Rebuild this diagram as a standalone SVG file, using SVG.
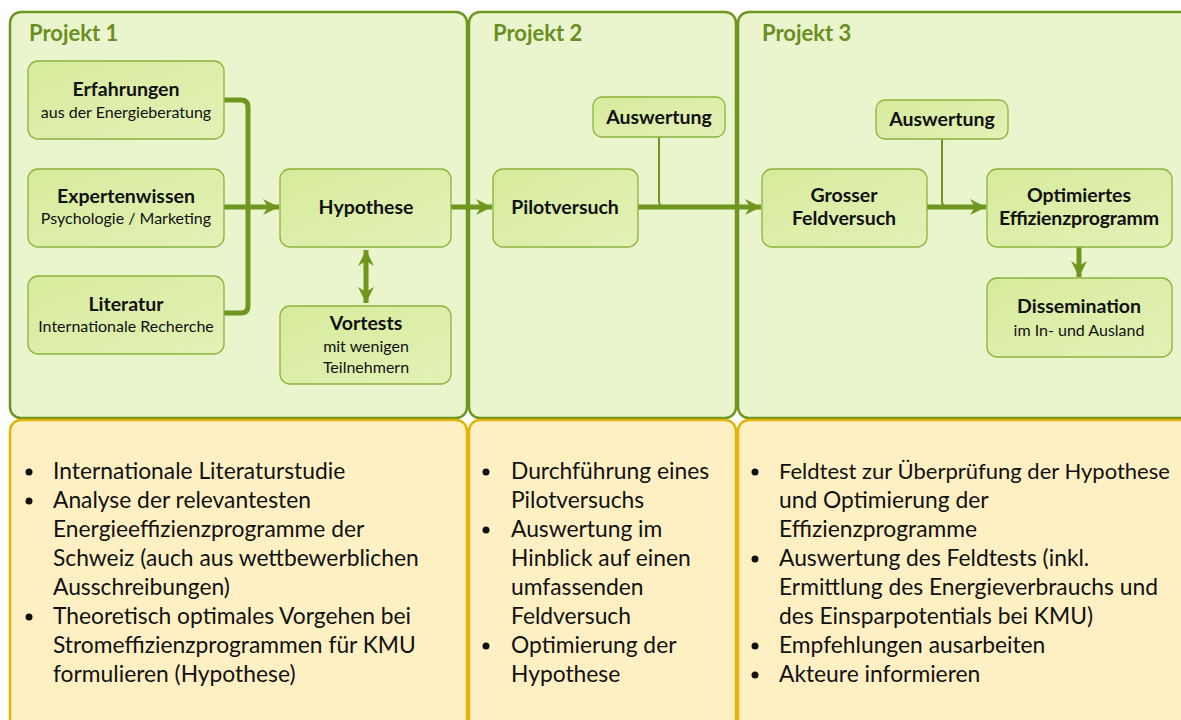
<svg xmlns="http://www.w3.org/2000/svg" width="1181" height="720" viewBox="0 0 1181 720">
<defs>
<linearGradient id="ng" x1="0" y1="0" x2="1" y2="1">
<stop offset="0" stop-color="#d6eb9c"/>
<stop offset="1" stop-color="#e3f1b6"/>
</linearGradient>
<marker id="ah" markerUnits="userSpaceOnUse" markerWidth="18" markerHeight="16" refX="16" refY="8" orient="auto-start-reverse">
<path d="M0,0 L16,8 L0,16 L5,8 z" fill="#6f961e"/>
</marker>
<style>
.panel{fill:#eaf5cd;stroke:#6f961e;stroke-width:2.5}
.tpanel{fill:#fff0c4;stroke:#e2b40a;stroke-width:2.5}
.title{font-family:Lato,"Liberation Sans",sans-serif;font-weight:bold;font-size:22px;fill:#6b8e23}
.node rect{fill:url(#ng);stroke:#8ab33c;stroke-width:1.3}
.b{font-family:Lato,"Liberation Sans",sans-serif;font-weight:bold;font-size:19.5px;fill:#111;text-anchor:middle}
.s{font-family:Lato,"Liberation Sans",sans-serif;font-size:16px;fill:#111;text-anchor:middle}
.con{fill:none;stroke:#6f961e;stroke-width:5}
.thin{fill:none;stroke:#6f961e;stroke-width:2}
.bl{font-family:Lato,"Liberation Sans",sans-serif;font-size:22.8px;fill:#111}
.dot{fill:#111}
</style>
</defs>
<rect width="1181" height="720" fill="#ffffff"/>
<g id="panels">
<rect class="panel" x="10" y="12" width="457" height="406" rx="11"/>
<rect class="panel" x="469" y="12" width="267" height="406" rx="11"/>
<rect class="panel" x="738" y="12" width="460" height="406" rx="11"/>
<text class="title" x="29" y="41">Projekt 1</text>
<text class="title" x="493" y="41">Projekt 2</text>
<text class="title" x="762" y="41">Projekt 3</text>
</g>
<g id="connectors">
<path class="con" d="M224,100 H241 Q248,100 248,107 V207"/>
<path class="con" d="M224,313 H241 Q248,313 248,306 V207"/>
<path class="con" d="M224,207 H279" marker-end="url(#ah)"/>
<path class="con" d="M366,250 V303" marker-start="url(#ah)" marker-end="url(#ah)"/>
<path class="con" d="M451,207 H492" marker-end="url(#ah)"/>
<path class="thin" d="M659,137 V201 Q659,207 665,207"/>
<path class="con" d="M638,207 H761" marker-end="url(#ah)"/>
<path class="thin" d="M942,139 V201 Q942,207 948,207"/>
<path class="con" d="M927,207 H986" marker-end="url(#ah)"/>
<path class="con" d="M1079,246 V277" marker-end="url(#ah)"/>
</g>
<g id="n-erfahrungen" class="node">
<rect x="28" y="61" width="196" height="78" rx="10"/>
<text class="b" x="126" y="96">Erfahrungen</text>
<text class="s" x="126" y="118">aus der Energieberatung</text>
</g>
<g id="n-experten" class="node">
<rect x="28" y="169" width="196" height="78" rx="10"/>
<text class="b" x="126" y="203">Expertenwissen</text>
<text class="s" x="126" y="224">Psychologie / Marketing</text>
</g>
<g id="n-literatur" class="node">
<rect x="28" y="276" width="196" height="78" rx="10"/>
<text class="b" x="126" y="311">Literatur</text>
<text class="s" x="126" y="332">Internationale Recherche</text>
</g>
<g id="n-hypothese" class="node">
<rect x="280" y="169" width="171" height="78" rx="10"/>
<text class="b" x="366" y="214">Hypothese</text>
</g>
<g id="n-vortests" class="node">
<rect x="280" y="306" width="171" height="78" rx="10"/>
<text class="b" x="366" y="330">Vortests</text>
<text class="s" x="366" y="352">mit wenigen</text>
<text class="s" x="366" y="373">Teilnehmern</text>
</g>
<g id="n-pilot" class="node">
<rect x="493" y="169" width="145" height="78" rx="10"/>
<text class="b" x="565" y="214">Pilotversuch</text>
</g>
<g id="n-ausw2" class="node">
<rect x="593" y="97" width="132" height="40" rx="9"/>
<text class="b" x="659" y="124">Auswertung</text>
</g>
<g id="n-grosser" class="node">
<rect x="762" y="169" width="165" height="78" rx="10"/>
<text class="b" x="844" y="202">Grosser</text>
<text class="b" x="844" y="225">Feldversuch</text>
</g>
<g id="n-ausw3" class="node">
<rect x="876" y="100" width="132" height="39" rx="9"/>
<text class="b" x="942" y="126">Auswertung</text>
</g>
<g id="n-optim" class="node">
<rect x="987" y="169" width="185" height="78" rx="10"/>
<text class="b" x="1079" y="202">Optimiertes</text>
<text class="b" x="1079" y="225" textLength="160" lengthAdjust="spacing">Effizienzprogramm</text>
</g>
<g id="n-dissem" class="node">
<rect x="987" y="278" width="185" height="79" rx="10"/>
<text class="b" x="1079" y="313">Dissemination</text>
<text class="s" x="1079" y="336">im In- und Ausland</text>
</g>
<g id="tasks">
<rect class="tpanel" x="10" y="420" width="457" height="320" rx="11"/>
<rect class="tpanel" x="469" y="420" width="267" height="320" rx="11"/>
<rect class="tpanel" x="738" y="420" width="460" height="320" rx="11"/>
<circle class="dot" cx="29" cy="472" r="3.5"/>
<circle class="dot" cx="29" cy="501" r="3.5"/>
<circle class="dot" cx="29" cy="617" r="3.5"/>
<text class="bl" x="53" y="479">Internationale Literaturstudie</text>
<text class="bl" x="53" y="508">Analyse der relevantesten</text>
<text class="bl" x="53" y="537">Energieeffizienzprogramme der</text>
<text class="bl" x="53" y="566">Schweiz (auch aus wettbewerblichen</text>
<text class="bl" x="53" y="595">Ausschreibungen)</text>
<text class="bl" x="53" y="624">Theoretisch optimales Vorgehen bei</text>
<text class="bl" x="53" y="653">Stromeffizienzprogrammen für KMU</text>
<text class="bl" x="53" y="682">formulieren (Hypothese)</text>
<circle class="dot" cx="486" cy="472" r="3.5"/>
<circle class="dot" cx="486" cy="530" r="3.5"/>
<circle class="dot" cx="486" cy="646" r="3.5"/>
<text class="bl" x="511" y="479">Durchführung eines</text>
<text class="bl" x="511" y="508">Pilotversuchs</text>
<text class="bl" x="511" y="537">Auswertung im</text>
<text class="bl" x="511" y="566">Hinblick auf einen</text>
<text class="bl" x="511" y="595">umfassenden</text>
<text class="bl" x="511" y="624">Feldversuch</text>
<text class="bl" x="511" y="653">Optimierung der</text>
<text class="bl" x="511" y="682">Hypothese</text>
<circle class="dot" cx="755" cy="472" r="3.5"/>
<circle class="dot" cx="755" cy="559" r="3.5"/>
<circle class="dot" cx="755" cy="646" r="3.5"/>
<circle class="dot" cx="755" cy="675" r="3.5"/>
<text class="bl" x="779" y="479" style="font-size:22px">Feldtest zur Überprüfung der Hypothese</text>
<text class="bl" x="779" y="508">und Optimierung der</text>
<text class="bl" x="779" y="537">Effizienzprogramme</text>
<text class="bl" x="779" y="566">Auswertung des Feldtests (inkl.</text>
<text class="bl" x="779" y="595">Ermittlung des Energieverbrauchs und</text>
<text class="bl" x="779" y="624">des Einsparpotentials bei KMU)</text>
<text class="bl" x="779" y="653">Empfehlungen ausarbeiten</text>
<text class="bl" x="779" y="682">Akteure informieren</text>
</g>
</svg>
